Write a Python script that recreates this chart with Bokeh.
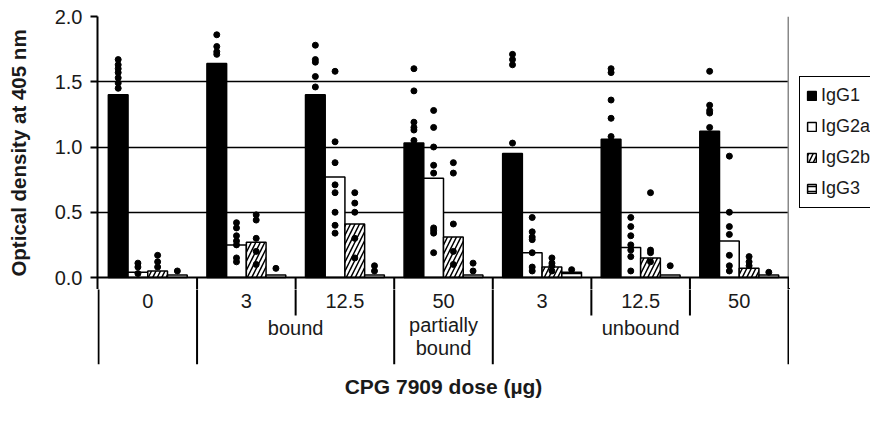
from bokeh.plotting import figure
from bokeh.layouts import column, row
from bokeh.models import Range1d, FixedTicker, Span, Legend, LegendItem, PrintfTickFormatter
from bokeh.core.properties import value
from bokeh.embed import file_html
from bokeh.resources import INLINE

# ---------------- data ----------------
doses = ["0", "3", "12.5", "50", "3", "12.5", "50"]
series = ["IgG1", "IgG2a", "IgG2b", "IgG3"]
binding_labels = ["bound", "partially", "bound", "unbound"]

igg1 = [1.40, 1.64, 1.40, 1.03, 0.95, 1.06, 1.12]
igg2a = [0.04, 0.25, 0.77, 0.76, 0.19, 0.23, 0.28]
igg2b = [0.05, 0.27, 0.41, 0.31, 0.08, 0.15, 0.07]
igg3 = [0.02, 0.02, 0.02, 0.02, 0.04, 0.02, 0.02]

igg1_pts = [
    [1.67, 1.63, 1.60, 1.57, 1.53, 1.49, 1.45],
    [1.86, 1.77, 1.73, 1.71],
    [1.78, 1.67, 1.65, 1.54, 1.46],
    [1.60, 1.43, 1.19, 1.15, 1.13, 1.05],
    [1.71, 1.67, 1.63, 1.03],
    [1.60, 1.57, 1.36, 1.22, 1.08],
    [1.58, 1.32, 1.28, 1.26, 1.15],
]
igg2a_pts = [
    [0.11, 0.08, 0.03],
    [0.42, 0.38, 0.32, 0.28, 0.25, 0.15, 0.12],
    [1.58, 1.04, 0.88, 0.71, 0.65, 0.50, 0.40, 0.34],
    [1.28, 1.15, 1.00, 0.86, 0.80, 0.38, 0.36, 0.34, 0.19],
    [0.46, 0.35, 0.31, 0.29, 0.19, 0.08, 0.05],
    [0.46, 0.39, 0.32, 0.25, 0.21, 0.16, 0.05],
    [0.93, 0.50, 0.39, 0.33, 0.17, 0.09, 0.05],
]
igg2b_pts = [
    [0.17, 0.12, 0.08],
    [0.48, 0.44, 0.30, 0.20, 0.10],
    [0.65, 0.57, 0.50, 0.30, 0.15],
    [0.88, 0.80, 0.41, 0.20, 0.10],
    [0.15, 0.11, 0.09, 0.05],
    [0.65, 0.21, 0.19, 0.12],
    [0.16, 0.12, 0.09],
]
igg3_pts = [
    [0.05],
    [0.07],
    [0.09, 0.05],
    [0.11, 0.05],
    [0.06],
    [0.09],
    [0.04],
]

values = [igg1, igg2a, igg2b, igg3]
points = [igg1_pts, igg2a_pts, igg2b_pts, igg3_pts]
offsets = [-0.3, -0.1, 0.1, 0.3]
fills = ["black", "white", "white", "white"]
hatches = [None, None, "/", "-"]
hatch_scales = [None, None, 9, 5]

FONT = "Liberation Sans"
TXT = "#1a1a1a"
PX_PER_UNIT = 130.5          # vertical pixels per OD unit
EXTRA = 12                   # pixels of table drawn inside the top figure

xr = Range1d(-0.01, 7.01)


def bar_style(k):
    kw = dict(fill_color=fills[k], line_color="black", line_width=1.5)
    if hatches[k]:
        kw.update(hatch_pattern=hatches[k], hatch_color="black",
                  hatch_weight=1.5, hatch_scale=hatch_scales[k])
    return kw


# ---------------- top (bars) ----------------
ybot = -EXTRA / PX_PER_UNIT
p = figure(width=789, height=289, x_range=xr, y_range=Range1d(ybot, 2.0),
           output_backend="svg", toolbar_location=None,
           min_border_left=97, min_border_right=0, min_border_top=16, min_border_bottom=0)
p.xaxis.visible = False
p.outline_line_color = None
p.xgrid.visible = False
p.ygrid.ticker = FixedTicker(ticks=[0.5, 1.0, 1.5])
p.ygrid.grid_line_color = "black"
p.ygrid.grid_line_width = 1.6

ya = p.yaxis[0]
ya.ticker = FixedTicker(ticks=[0, 0.5, 1.0, 1.5, 2.0])
ya.formatter = PrintfTickFormatter(format="%.1f")
ya.minor_tick_line_color = None
ya.major_tick_in = 0
ya.major_tick_out = 7
ya.major_tick_line_width = 2
ya.axis_line_width = 2
ya.axis_line_color = "black"
ya.major_tick_line_color = "black"
ya.major_label_text_font = FONT
ya.major_label_text_font_size = "20px"
ya.major_label_text_color = TXT
ya.major_label_standoff = 8
ya.axis_label = "Optical density at 405 nm"
ya.axis_label_text_font = FONT
ya.axis_label_text_font_style = "bold"
ya.axis_label_text_font_size = "20.5px"
ya.axis_label_text_color = TXT
ya.axis_label_standoff = 22

for k in range(4):
    xs = [i + 0.5 + offsets[k] for i in range(7)]
    p.vbar(x=xs, top=values[k], bottom=0, width=0.2, **bar_style(k))

for k in range(4):
    px, py = [], []
    for i in range(7):
        for v in points[k][i]:
            px.append(i + 0.5 + offsets[k])
            py.append(v)
    p.scatter(px, py, marker="circle", size=6, fill_color="black", line_color="black")

p.add_layout(Span(location=0, dimension="width", line_color="black", line_width=2))
p.segment(x0=[7], y0=[0], x1=[7], y1=[2.0], line_color="#888888", line_width=2)
bx = [1, 2, 3, 4, 5, 6, 7]
p.segment(x0=bx, y0=[0] * 7, x1=bx, y1=[ybot * 1.2] * 7, line_color="black", line_width=2)

# ---------------- bottom (category table) ----------------
q = figure(width=789, height=122, x_range=xr, y_range=Range1d(-87, -EXTRA),
           output_backend="svg", toolbar_location=None,
           min_border_left=97, min_border_right=0, min_border_top=0, min_border_bottom=47)
q.outline_line_color = None
q.grid.visible = False
q.yaxis.visible = False
xa = q.xaxis[0]
xa.ticker = FixedTicker(ticks=[])
xa.axis_line_color = None
xa.major_tick_out = 0
xa.major_tick_in = 0
xa.minor_tick_line_color = None
xa.major_label_standoff = 0
xa.axis_label = "CPG 7909 dose (µg)"
xa.axis_label_text_font = FONT
xa.axis_label_text_font_style = "bold"
xa.axis_label_text_font_size = "21px"
xa.axis_label_text_color = TXT
xa.axis_label_standoff = 10

long_x = [0, 1, 3, 4, 7]
short_x = [2, 5, 6]
q.segment(x0=long_x, y0=[0] * 5, x1=long_x, y1=[-87] * 5, line_color="black", line_width=2)
q.segment(x0=short_x, y0=[0] * 3, x1=short_x, y1=[-38] * 3, line_color="black", line_width=2)

q.text(x=[i + 0.5 for i in range(7)], y=[-23] * 7, text=doses,
       text_align="center", text_baseline="middle",
       text_font=value(FONT), text_font_size="20px", text_color=TXT)
q.text(x=[2.0, 3.5, 3.5, 5.5], y=[-50, -47, -70, -50], text=binding_labels,
       text_align="center", text_baseline="middle",
       text_font=value(FONT), text_font_size="20px", text_color=TXT)

# ---------------- legend panel ----------------
# same series drawn here (out of view) only to feed the legend swatches
lf = figure(width=81, height=289, x_range=Range1d(100, 101), y_range=Range1d(100, 101),
            output_backend="svg", toolbar_location=None, min_border=0)
lf.axis.visible = False
lf.grid.visible = False
lf.outline_line_color = None
lrs = []
for k in range(4):
    xs = [i + 0.5 + offsets[k] for i in range(7)]
    lrs.append(lf.vbar(x=xs, top=values[k], bottom=0, width=0.2, **bar_style(k)))
legend = Legend(items=[LegendItem(label=series[k], renderers=[lrs[k]]) for k in range(4)],
                location=(10, 81), margin=0, padding=6, spacing=6,
                label_height=25, glyph_height=11, glyph_width=11, label_standoff=4,
                label_text_font=FONT, label_text_font_size="18px", label_text_color=TXT,
                border_line_color="black", border_line_alpha=1.0, border_line_width=1.4,
                background_fill_alpha=1)
lf.add_layout(legend, "center")

layout = row(column(p, q, spacing=0), lf, spacing=0)
open("out.html", "w").write(file_html(layout, INLINE))
